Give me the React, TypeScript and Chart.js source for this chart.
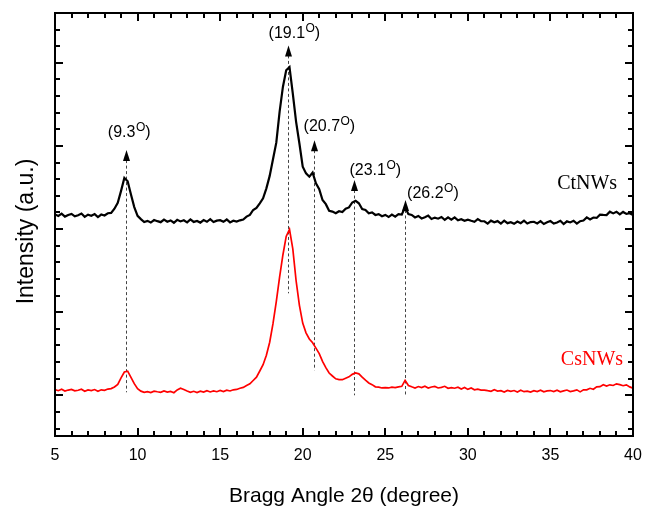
import React, { useEffect, useRef } from 'react';
import { Chart, registerables } from 'chart.js';

Chart.register(...registerables);

// 2θ angles (degree)
const angles = [
  5, 5.2, 5.4, 5.6, 5.8, 6, 6.2, 6.4, 6.6, 6.8, 7, 7.2, 7.4, 7.6, 7.8, 8, 8.2, 8.4, 8.6, 8.8,
  9, 9.2, 9.4, 9.6, 9.8, 10, 10.2, 10.4, 10.6, 10.8, 11, 11.2, 11.4, 11.6, 11.8, 12, 12.2, 12.4, 12.6, 12.8,
  13, 13.2, 13.4, 13.6, 13.8, 14, 14.2, 14.4, 14.6, 14.8, 15, 15.2, 15.4, 15.6, 15.8, 16, 16.2, 16.4, 16.6, 16.8,
  17, 17.2, 17.4, 17.6, 17.8, 18, 18.2, 18.4, 18.6, 18.8, 19, 19.2, 19.4, 19.6, 19.8, 20, 20.2, 20.4, 20.6, 20.8,
  21, 21.2, 21.4, 21.6, 21.8, 22, 22.2, 22.4, 22.6, 22.8, 23, 23.2, 23.4, 23.6, 23.8, 24, 24.2, 24.4, 24.6, 24.8,
  25, 25.2, 25.4, 25.6, 25.8, 26, 26.2, 26.4, 26.6, 26.8, 27, 27.2, 27.4, 27.6, 27.8, 28, 28.2, 28.4, 28.6, 28.8,
  29, 29.2, 29.4, 29.6, 29.8, 30, 30.2, 30.4, 30.6, 30.8, 31, 31.2, 31.4, 31.6, 31.8, 32, 32.2, 32.4, 32.6, 32.8,
  33, 33.2, 33.4, 33.6, 33.8, 34, 34.2, 34.4, 34.6, 34.8, 35, 35.2, 35.4, 35.6, 35.8, 36, 36.2, 36.4, 36.6, 36.8,
  37, 37.2, 37.4, 37.6, 37.8, 38, 38.2, 38.4, 38.6, 38.8, 39, 39.2, 39.4, 39.6, 39.8, 40,
];

// CtNWs intensity (a.u., offset upward)
const ctnws = [
  2177, 2157, 2185, 2150, 2170, 2183, 2153, 2167, 2187, 2147,
  2173, 2160, 2180, 2145, 2175, 2163, 2190,
  2195, 2245, 2315, 2460, 2615, 2575, 2415, 2265, 2160, 2120,
  2085, 2099, 2079, 2109, 2095, 2083, 2114, 2089, 2104, 2076,
  2111, 2092, 2106, 2081, 2116, 2086, 2098, 2078, 2108, 2088,
  2119, 2084, 2101, 2107, 2087, 2115, 2080, 2100,
  2090, 2105, 2115, 2150, 2170,
  2230, 2255, 2310, 2370, 2490, 2640, 2840, 3040, 3410, 3710,
  3910, 3950, 3630, 3290, 3030, 2750, 2670, 2630, 2680, 2550,
  2480, 2350, 2300, 2220, 2210, 2190, 2215, 2205, 2245, 2260,
  2320, 2340, 2310, 2240, 2230, 2190, 2200, 2170, 2180, 2155,
  2170, 2145, 2175, 2150, 2180, 2175, 2265, 2180, 2170, 2140,
  2158, 2128, 2142, 2162, 2122, 2138, 2125, 2145, 2110, 2140,
  2113, 2140, 2105, 2119, 2099, 2114, 2100, 2088, 2119, 2094,
  2094, 2066, 2101, 2082, 2096, 2066, 2101, 2071, 2083, 2063,
  2091, 2071, 2102, 2067, 2084, 2088, 2068, 2096, 2061, 2081,
  2096, 2066, 2080, 2100, 2060, 2093, 2080, 2100, 2065, 2095,
  2103, 2140, 2115, 2139, 2134, 2174, 2170, 2168, 2209, 2189,
  2209, 2176, 2206, 2182, 2191, 2170,
];

// CsNWs intensity (a.u.)
const csnws = [
  68, 55, 72, 51, 63, 71, 53, 61, 73, 49,
  65, 57, 69, 48, 66, 59, 75,
  80, 100, 130, 210, 280, 290, 215, 140, 80, 50,
  36, 44, 32, 50, 42, 35, 53, 38, 47, 31,
  65, 85, 70,
  52, 36, 48, 33, 50, 38, 55, 40, 52, 43, 58, 45, 62, 52, 66,
  70, 85, 95, 118, 138,
  178, 218, 292, 368, 482, 638, 862, 1128, 1422, 1688,
  1912, 1998, 1762, 1378, 1082, 868, 752, 678, 632, 568,
  502, 408, 332, 268, 232, 198, 188, 188, 206, 222,
  252, 268, 258, 218, 182, 148, 128, 102, 98, 88,
  92, 88, 97, 93, 102, 108, 180, 118, 102, 88,
  105, 92, 109, 88, 100, 106, 88, 96, 108, 84,
  93, 85, 97, 76, 94, 71, 87, 66, 74, 62,
  63, 55, 48, 66, 51, 55, 39, 59, 48, 57,
  40, 60, 43, 50, 38, 56, 44, 62, 41, 52,
  57, 45, 62, 41, 53, 63, 45, 53, 65, 41,
  65, 65, 84, 73, 101, 104, 127, 112, 126, 118,
  138, 128, 115, 126, 101, 85,
];

const xTickLabels = [5, 10, 15, 20, 25, 30, 35, 40];

// peak annotations
const peakAngles = [9.3, 19.1, 20.7, 23.1, 26.2];
const peakLabels = ['9.3', '19.1', '20.7', '23.1', '26.2'];
const arrowTips = [2950, 4210, 3070, 2590, 2350];
const dashBottoms = [36, 1227, 300, 0, 0];
const labelAngles = [9.48, 19.48, 21.6, 24.38, 27.87];
const labelLevels = [3165, 4362, 3243, 2708, 2437];

// series names placed on the plot
const seriesNames = ['CtNWs', 'CsNWs'];
const seriesColors = ['#000000', '#ff0000'];
const seriesLabelAngles = [39.04, 39.4];
const seriesLabelLevels = [2551, 427];

const yTitle = 'Intensity (a.u.)';
const xTitle = 'Bragg Angle 2θ (degree)';

const SANS = '"Liberation Sans", Arial, Helvetica, sans-serif';
const SERIF = '"Liberation Serif", "Times New Roman", serif';

const decorPlugin = {
  id: 'decor',
  beforeDatasetsDraw(chart: any) {
    const { ctx } = chart;
    const xs = chart.scales.x;
    const ys = chart.scales.y;
    ctx.save();
    ctx.strokeStyle = '#444';
    ctx.lineWidth = 1;
    ctx.setLineDash([3, 2.5]);
    peakAngles.forEach((a, i) => {
      const px = Math.round(xs.getPixelForValue(a)) + 0.5;
      const top = ys.getPixelForValue(arrowTips[i]) + 10;
      const bot = ys.getPixelForValue(dashBottoms[i]);
      ctx.beginPath();
      ctx.moveTo(px, top);
      ctx.lineTo(px, bot);
      ctx.stroke();
    });
    ctx.restore();
  },
  afterDraw(chart: any) {
    const { ctx, chartArea: a } = chart;
    const xs = chart.scales.x;
    const ys = chart.scales.y;
    ctx.save();

    // y-axis title
    ctx.save();
    ctx.translate(27, (a.top + a.bottom) / 2 + 7);
    ctx.rotate(-Math.PI / 2);
    ctx.font = `23px ${SANS}`;
    ctx.fillStyle = '#000';
    ctx.textAlign = 'center';
    ctx.textBaseline = 'middle';
    ctx.fillText(yTitle, 0, 0);
    ctx.restore();

    // arrows and peak labels
    peakAngles.forEach((ang, i) => {
      const px = Math.round(xs.getPixelForValue(ang)) + 0.5;
      const tip = ys.getPixelForValue(arrowTips[i]);
      ctx.fillStyle = '#000';
      ctx.beginPath();
      ctx.moveTo(px, tip);
      ctx.lineTo(px - 3.5, tip + 11);
      ctx.lineTo(px + 3.5, tip + 11);
      ctx.closePath();
      ctx.fill();

      const cx = xs.getPixelForValue(labelAngles[i]);
      const my = ys.getPixelForValue(labelLevels[i]);
      const base = my + 5;
      const main = '(' + peakLabels[i];
      ctx.font = `16px ${SANS}`;
      const w1 = ctx.measureText(main).width;
      const w3 = ctx.measureText(')').width;
      ctx.font = `12px ${SANS}`;
      const w2 = ctx.measureText('O').width;
      const total = w1 + w2 + w3;
      const x0 = cx - total / 2;
      ctx.textAlign = 'left';
      ctx.textBaseline = 'alphabetic';
      ctx.fillStyle = '#000';
      ctx.font = `16px ${SANS}`;
      ctx.fillText(main, x0, base);
      ctx.font = `12px ${SANS}`;
      ctx.fillText('O', x0 + w1 + 0.5, base - 6);
      ctx.font = `16px ${SANS}`;
      ctx.fillText(')', x0 + w1 + w2 + 0.5, base);
    });

    // series names
    seriesNames.forEach((n, i) => {
      ctx.font = `20px ${SERIF}`;
      ctx.fillStyle = seriesColors[i];
      ctx.textAlign = 'right';
      ctx.textBaseline = 'middle';
      ctx.fillText(n, xs.getPixelForValue(seriesLabelAngles[i]), ys.getPixelForValue(seriesLabelLevels[i]));
    });

    // inward ticks on all four sides
    ctx.strokeStyle = '#000';
    ctx.lineWidth = 2;
    ctx.setLineDash([]);
    for (let v = 6; v < 40; v += 1) {
      const px = Math.round(xs.getPixelForValue(v));
      const len = v % 5 === 0 ? 8 : 5;
      ctx.beginPath();
      ctx.moveTo(px, a.bottom);
      ctx.lineTo(px, a.bottom - len);
      ctx.moveTo(px, a.top);
      ctx.lineTo(px, a.top + len);
      ctx.stroke();
    }
    for (let v = -400; v <= 4400; v += 200) {
      const py = Math.round(ys.getPixelForValue(v));
      const len = v % 1000 === 0 ? 8 : 5;
      ctx.beginPath();
      ctx.moveTo(a.left, py);
      ctx.lineTo(a.left + len, py);
      ctx.moveTo(a.right, py);
      ctx.lineTo(a.right - len, py);
      ctx.stroke();
    }
    ctx.strokeRect(a.left, a.top, a.right - a.left, a.bottom - a.top);
    ctx.restore();
  },
};

export default function App() {
  const ref = useRef<HTMLCanvasElement>(null);
  useEffect(() => {
    document.body.style.margin = '0';
    const chart = new Chart(ref.current as HTMLCanvasElement, {
      type: 'line',
      data: {
        datasets: [
          {
            label: 'CtNWs',
            data: angles.map((x, i) => ({ x, y: ctnws[i] })),
            borderColor: '#000000',
            borderWidth: 2.2,
            pointRadius: 0,
            tension: 0,
          },
          {
            label: 'CsNWs',
            data: angles.map((x, i) => ({ x, y: csnws[i] })),
            borderColor: '#ff0000',
            borderWidth: 1.7,
            pointRadius: 0,
            tension: 0,
          },
        ],
      },
      options: {
        responsive: false,
        animation: false,
        layout: { padding: { top: 13, right: 21, left: 0, bottom: 0 } },
        plugins: { legend: { display: false }, tooltip: { enabled: false } },
        scales: {
          x: {
            type: 'linear',
            min: 5,
            max: 40,
            afterFit: (s: any) => {
              s.height = 71;
            },
            afterBuildTicks: (s: any) => {
              s.ticks = xTickLabels.map((v) => ({ value: v }));
            },
            grid: { display: false },
            border: { display: false },
            ticks: {
              color: '#000',
              font: { family: SANS, size: 16 },
              padding: 2,
              maxRotation: 0,
              autoSkip: false,
            },
            title: {
              display: true,
              text: xTitle,
              color: '#000',
              font: { family: SANS, size: 21, lineHeight: 1 },
              padding: 0,
            },
          },
          y: {
            type: 'linear',
            min: -490,
            max: 4600,
            afterFit: (s: any) => {
              s.width = 55;
            },
            grid: { display: false },
            border: { display: false },
            ticks: { display: false },
            title: { display: false },
          },
        },
      },
      plugins: [decorPlugin],
    });
    return () => chart.destroy();
  }, []);
  return (
    <div style={{ width: 654, height: 507 }}>
      <canvas ref={ref} width={654} height={507} style={{ display: 'block' }} />
    </div>
  );
}
